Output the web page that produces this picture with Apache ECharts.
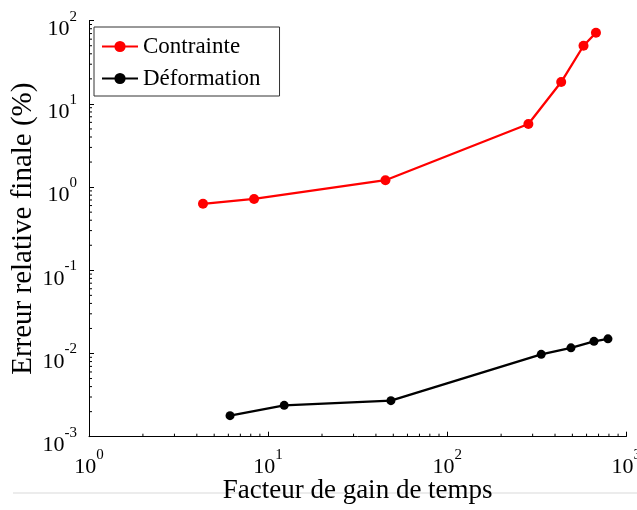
<!DOCTYPE html>
<html><head><meta charset="utf-8">
<script src="https://cdn.jsdelivr.net/npm/echarts@6/dist/echarts.min.js"></script>
<style>html,body{margin:0;padding:0;background:#fff}#c{width:637px;height:510px}</style>
</head><body><div id="c"></div>
<script>
// Data
const seriesNames = ['Contrainte', 'Déformation'];
const contrainteX = [4.33, 8.35, 45.2, 284, 433, 577, 677];
const contrainteY = [0.63, 0.72, 1.21, 5.73, 18.3, 50, 71.8];
const deformationX = [6.13, 12.3, 48.5, 335, 491, 660, 790];
const deformationY = [0.00179, 0.00238, 0.00271, 0.00977, 0.0117, 0.0140, 0.0150];
// Axis ranges and minor tick values
const xRange = [1, 1000];
const yRange = [0.001, 100];
const xMinorTicks = [2,3,4,5,6,7,8,9,20,30,40,50,60,70,80,90,200,300,400,500,600,700,800,900];
const yMinorTicks = [0.002,0.003,0.004,0.005,0.006,0.007,0.008,0.009,
  0.02,0.03,0.04,0.05,0.06,0.07,0.08,0.09,
  0.2,0.3,0.4,0.5,0.6,0.7,0.8,0.9,
  2,3,4,5,6,7,8,9,20,30,40,50,60,70,80,90];

const FONT = '"Liberation Serif", "Times New Roman", serif';
const chart = echarts.init(document.getElementById('c'), null, {renderer: 'canvas'});

function powLabel(v) {
  const e = Math.round(Math.log10(v));
  return '{b|10}{s|' + e + '}';
}
const richLab = {
  b: {fontSize: 22, fontFamily: FONT, color: '#000', lineHeight: 31, verticalAlign: 'bottom'},
  s: {fontSize: 15, fontFamily: FONT, color: '#000', lineHeight: 15, verticalAlign: 'top'}
};

const zip = (xs, ys) => xs.map((x, i) => [x, ys[i]]);

chart.setOption({
  animation: false,
  backgroundColor: '#fff',
  grid: {left: 89, right: 10.7, top: 20.7, bottom: 73.3, containLabel: false, outerBoundsMode: 'none'},
  legend: {
    data: seriesNames,
    orient: 'vertical',
    left: 94, top: 27,
    padding: [8, 19, 6, 7],
    itemGap: 9,
    itemWidth: 36, itemHeight: 14,
    borderColor: '#333', borderWidth: 1,
    backgroundColor: '#fff',
    textStyle: {fontFamily: FONT, fontSize: 23, color: '#000'}
  },
  graphic: [{
    type: 'line', z: -10, silent: true,
    shape: {x1: 13, y1: 493, x2: 637, y2: 493},
    style: {stroke: '#d9d9d9', lineWidth: 1}
  }],
  xAxis: {
    type: 'log', logBase: 10, min: xRange[0], max: xRange[1],
    name: 'Facteur de gain de temps', nameLocation: 'middle', nameGap: 41, nameMoveOverlap: false,
    nameTextStyle: {fontFamily: FONT, fontSize: 27, color: '#000'},
    axisLine: {show: true, lineStyle: {color: '#000', width: 1}},
    axisTick: {show: true, inside: true, length: 5, lineStyle: {color: '#000'}},
    splitLine: {show: false},
    axisLabel: {margin: 11, formatter: powLabel, rich: richLab, hideOverlap: false, showMinLabel: true, showMaxLabel: true}
  },
  yAxis: {
    type: 'log', logBase: 10, min: yRange[0], max: yRange[1],
    name: 'Erreur relative finale (%)', nameLocation: 'middle', nameGap: 51, nameRotate: 90, nameMoveOverlap: false,
    nameTextStyle: {fontFamily: FONT, fontSize: 29, color: '#000'},
    axisLine: {show: true, lineStyle: {color: '#000', width: 1}},
    axisTick: {show: true, inside: true, length: 5, lineStyle: {color: '#000'}},
    splitLine: {show: false},
    axisLabel: {margin: 12, padding: [8, 0, 0, 0], formatter: powLabel, rich: richLab, showMinLabel: true, showMaxLabel: true}
  },
  series: [
    {
      name: seriesNames[0], type: 'line', data: zip(contrainteX, contrainteY),
      color: '#ff0000', symbol: 'circle', symbolSize: 10,
      lineStyle: {width: 2.3, color: '#ff0000'}, itemStyle: {color: '#ff0000'}
    },
    {
      name: seriesNames[1], type: 'line', data: zip(deformationX, deformationY),
      color: '#000', symbol: 'circle', symbolSize: 9,
      lineStyle: {width: 2.3, color: '#000'}, itemStyle: {color: '#000'}
    },
    {
      type: 'custom', silent: true, clip: false,
      data: xMinorTicks.map(v => [v, yRange[0]]),
      renderItem: (params, api) => {
        const p = api.coord([api.value(0), yRange[0]]);
        return {type: 'line', shape: {x1: p[0], y1: p[1], x2: p[0], y2: p[1] - 3}, style: {stroke: '#000', lineWidth: 1}};
      }
    },
    {
      type: 'custom', silent: true, clip: false,
      data: yMinorTicks.map(v => [xRange[0], v]),
      renderItem: (params, api) => {
        const p = api.coord([xRange[0], api.value(1)]);
        return {type: 'line', shape: {x1: p[0], y1: p[1], x2: p[0] + 3, y2: p[1]}, style: {stroke: '#000', lineWidth: 1}};
      }
    }
  ]
});
</script>
</body></html>
